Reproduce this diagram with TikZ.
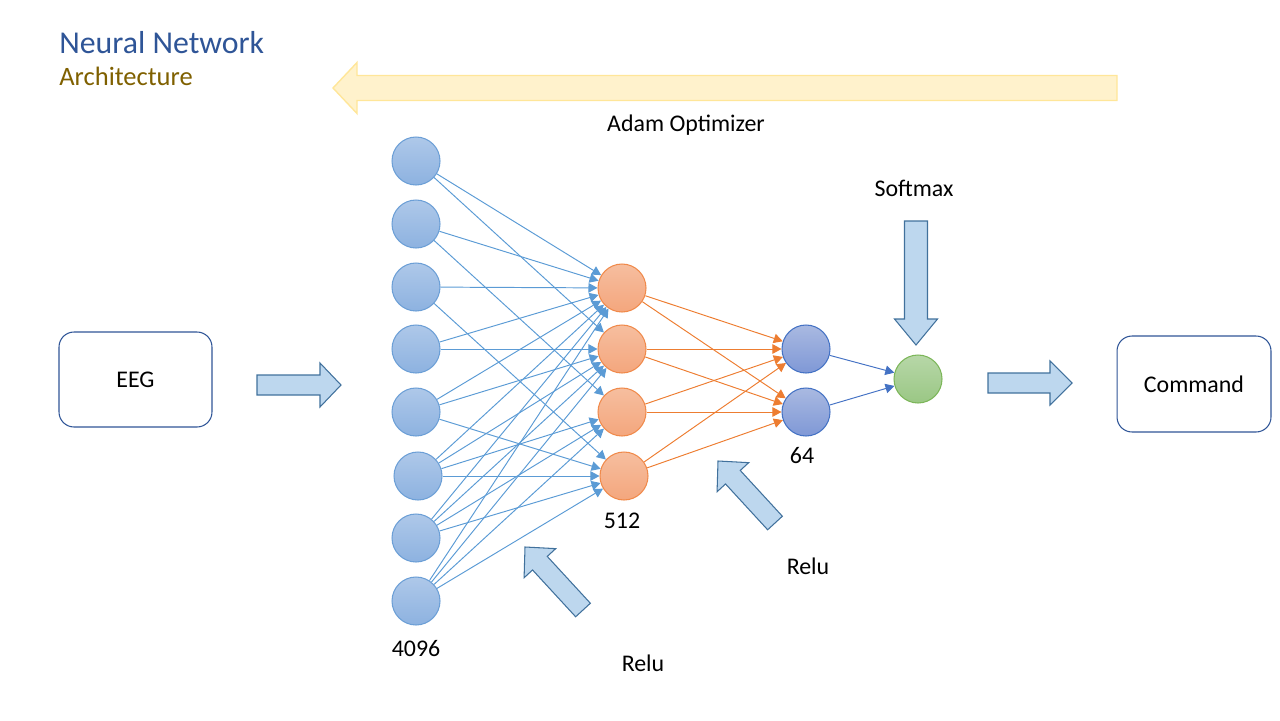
\documentclass[tikz,border=0pt]{standalone}
\usepackage{fontspec}
\setmainfont{Carlito}
\usetikzlibrary{arrows.meta,calc}
\definecolor{titleblue}{HTML}{2F5597}
\definecolor{titlegold}{HTML}{7F6000}
\definecolor{inedge}{HTML}{5B9BD5}
\definecolor{intop}{HTML}{AEC8E9}
\definecolor{inbot}{HTML}{8DB2E0}
\definecolor{indraw}{HTML}{6C9FD6}
\definecolor{hidtop}{HTML}{F6BE9F}
\definecolor{hidbot}{HTML}{F4A67D}
\definecolor{hiddraw}{HTML}{F08A4B}
\definecolor{orangeedge}{HTML}{ED7D31}
\definecolor{midtop}{HTML}{A9B9E1}
\definecolor{midbot}{HTML}{7F98D6}
\definecolor{middraw}{HTML}{4472C4}
\definecolor{outtop}{HTML}{B7D7A8}
\definecolor{outbot}{HTML}{9AC784}
\definecolor{outdraw}{HTML}{7CB659}
\definecolor{blockfill}{HTML}{BDD7EE}
\definecolor{blockdraw}{HTML}{41719C}
\definecolor{adamfill}{HTML}{FFF2CC}
\definecolor{adamdraw}{HTML}{FFE699}
\definecolor{boxdraw}{HTML}{2F5597}
\newcommand{\blockarr}[6]{%
  \coordinate (ba-H) at ($(#2)!#5!(#1)$);
  \draw[#6] ($(#1)!#3!90:(#2)$) -- ($(ba-H)!#3!90:(#2)$) -- ($(ba-H)!#4!90:(#2)$) -- (#2)
    -- ($(ba-H)!#4!-90:(#2)$) -- ($(ba-H)!#3!-90:(#2)$) -- ($(#1)!#3!-90:(#2)$) -- cycle;}
\begin{document}
\begin{tikzpicture}[x=0.02cm,y=-0.02cm,
  neuron/.style={circle,minimum size=0.96cm,inner sep=0pt,line width=0.6pt},
  inneuron/.style={neuron,top color=intop,bottom color=inbot,draw=indraw},
  hidneuron/.style={neuron,top color=hidtop,bottom color=hidbot,draw=hiddraw},
  midneuron/.style={neuron,top color=midtop,bottom color=midbot,draw=middraw},
  outneuron/.style={neuron,top color=outtop,bottom color=outbot,draw=outdraw},
  inline/.style={draw=inedge,line width=0.55pt,-{Triangle[length=0.18cm,width=0.19cm]}},
  orline/.style={draw=orangeedge,line width=0.55pt,-{Triangle[length=0.18cm,width=0.19cm]}},
  outline/.style={draw=middraw,line width=0.55pt,-{Triangle[length=0.18cm,width=0.19cm]}},
  lbl/.style={anchor=base,inner sep=0pt,font=\fontsize{13.6pt}{16pt}\selectfont},
  blockstyle/.style={fill=blockfill,draw=blockdraw,line width=0.6pt},
  adamstyle/.style={fill=adamfill,draw=adamdraw,line width=0.8pt},
  iobox/.style={draw=boxdraw,line width=0.6pt,rounded corners=0.3cm,inner sep=0pt,
    font=\fontsize{13.6pt}{16pt}\selectfont}
]
\useasboundingbox (0,0) rectangle (1280,720);

% titles
\node[anchor=base west,inner sep=0pt,text=titleblue,font=\fontsize{18.1pt}{21pt}\selectfont] (title) at (59,53) {Neural Network};
\node[anchor=base west,inner sep=0pt,text=titlegold,font=\fontsize{15.1pt}{18pt}\selectfont] (subtitle) at (59,85) {Architecture};

% Adam optimizer arrow
\coordinate (adamtail) at (1117,88);
\coordinate (adamtip) at (333,88);
\blockarr{adamtail}{adamtip}{0.25cm}{0.51cm}{0.48cm}{adamstyle}
\node[lbl] (adam) at (686,131) {Adam Optimizer};

% boxes
\node[iobox,minimum width=3.06cm,minimum height=1.9cm] (eeg) at (135.5,379.5) {EEG};
\node[iobox,minimum width=3.08cm,minimum height=1.92cm] (cmd) at (1194,384) {Command};

% neurons
\node[inneuron] (i1) at (416,161) {};
\node[inneuron] (i2) at (416,224) {};
\node[inneuron] (i3) at (416,287) {};
\node[inneuron] (i4) at (416,349) {};
\node[inneuron] (i5) at (416,412) {};
\node[inneuron] (i6) at (418,476) {};
\node[inneuron] (i7) at (416,538) {};
\node[inneuron] (i8) at (416,601) {};

\node[hidneuron] (h1) at (622,288) {};
\node[hidneuron] (h2) at (622,349) {};
\node[hidneuron] (h3) at (622,412) {};
\node[hidneuron] (h4) at (624,476) {};

\node[midneuron] (m1) at (806,349) {};
\node[midneuron] (m2) at (806,412) {};

\node[outneuron] (o) at (918,379) {};

% connections
\foreach \a/\b in {1/1,1/2,2/1,2/3,3/1,3/4,4/1,4/2,5/1,5/2,5/4,6/1,6/2,6/3,6/4,7/1,7/2,7/3,7/4,8/1,8/2,8/3,8/4}
  \draw[inline] (i\a) -- (h\b);
\foreach \a in {1,2,3,4}
  \foreach \b in {1,2}
    \draw[orline] (h\a) -- (m\b);
\draw[outline] (m1) -- (o);
\draw[outline] (m2) -- (o);

% layer labels
\node[lbl] (l4096) at (416,656) {4096};
\node[lbl] (l512) at (622,528) {512};
\node[lbl] (l64) at (802,463) {64};

% block arrows
\coordinate (ra1t) at (257,385);
\coordinate (ra1p) at (341,385);
\blockarr{ra1t}{ra1p}{0.2cm}{0.44cm}{0.42cm}{blockstyle}
\coordinate (ra2t) at (988,383);
\coordinate (ra2p) at (1072,383);
\blockarr{ra2t}{ra2p}{0.2cm}{0.44cm}{0.44cm}{blockstyle}
\coordinate (smt) at (916,221);
\coordinate (smp) at (916,345);
\blockarr{smt}{smp}{0.23cm}{0.43cm}{0.52cm}{blockstyle}
\node[lbl] (softmax) at (914,196) {Softmax};

\coordinate (r1t) at (583,610);
\coordinate (r1p) at (525,547);
\blockarr{r1t}{r1p}{0.2cm}{0.43cm}{0.44cm}{blockstyle}
\node[lbl] (relu1) at (643,671) {Relu};

\coordinate (r2t) at (775,523);
\coordinate (r2p) at (718,461);
\blockarr{r2t}{r2p}{0.2cm}{0.43cm}{0.44cm}{blockstyle}
\node[lbl] (relu2) at (808,574) {Relu};
\end{tikzpicture}
\end{document}
